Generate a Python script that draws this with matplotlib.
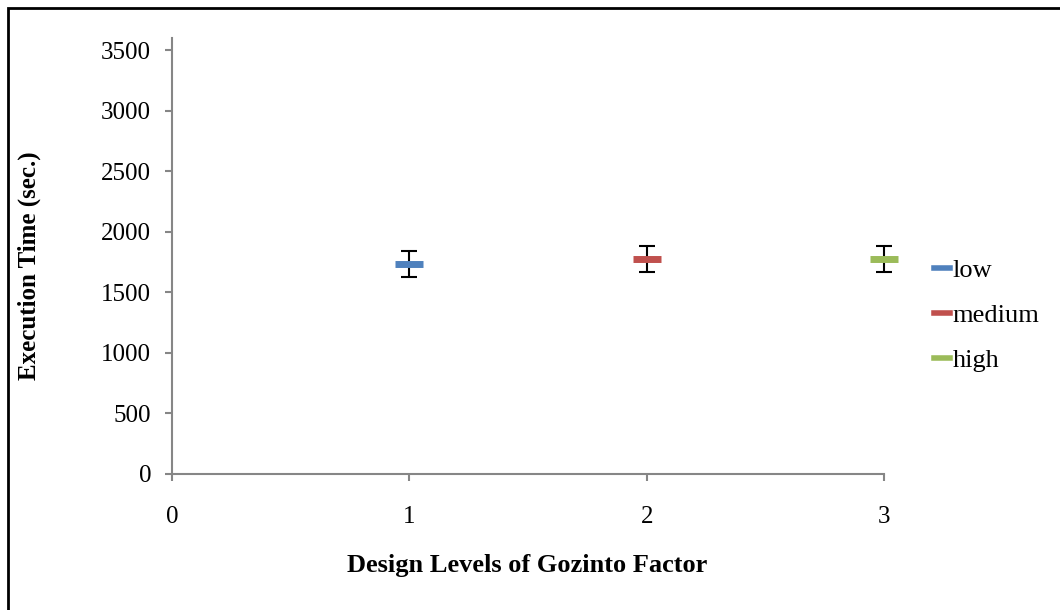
import numpy as np
import matplotlib.pyplot as plt
from matplotlib.lines import Line2D
from matplotlib.patches import Rectangle

plt.rcParams['font.family'] = ['Liberation Serif', 'DejaVu Serif']

levels = ['low', 'medium', 'high']
x_pos = [1, 2, 3]
mean_time = [1735, 1778, 1772]
err_time = [105, 107, 108]
colors = ['#4F81BD', '#C0504D', '#9BBB59']
y_ticks = [0, 500, 1000, 1500, 2000, 2500, 3000, 3500]
x_ticks = [0, 1, 2, 3]

fs = 18

fig = plt.figure(figsize=(10.6, 6.1), dpi=100)
ax = fig.add_axes([0.1623, 0.2230, 0.6717, 0.7148])

for xi, m, e, c in zip(x_pos, mean_time, err_time, colors):
    ax.errorbar(xi, m, yerr=e, fmt='none', ecolor='black', elinewidth=1.5,
                capsize=6, capthick=1.5, zorder=2, clip_on=False)
    ax.plot(xi, m, marker='_', markersize=20, mew=5, color=c, zorder=3,
            clip_on=False)

ax.set_xlim(0, 3)
ax.set_ylim(0, 3600)
ax.set_yticks(y_ticks)
ax.set_xticks(x_ticks)
ax.tick_params(axis='both', labelsize=fs, color='#868686', width=1.5,
               length=5, direction='out')
ax.tick_params(axis='x', pad=18)
ax.tick_params(axis='y', pad=10)
for s in ['top', 'right']:
    ax.spines[s].set_visible(False)
for s in ['left', 'bottom']:
    ax.spines[s].set_color('#868686')
    ax.spines[s].set_linewidth(1.5)

fig.text(0.028, 0.565, 'Execution Time (sec.)', rotation=90, fontsize=fs,
         fontweight='bold', ha='center', va='center')
fig.text(0.497, 0.073, 'Design Levels of Gozinto Factor', fontsize=fs + 1,
         fontweight='bold', ha='center', va='center')

handles = [Line2D([0], [0], color=c, lw=4) for c in colors]
fig.legend(handles, levels, loc='upper left', bbox_to_anchor=(0.869, 0.598),
           frameon=False, fontsize=fs + 1, handlelength=0.6, handletextpad=0.1,
           labelspacing=0.82, borderpad=0)

# outer frame
fig.patches.append(Rectangle((8 / 1060, -0.1), 1.2, 1.1 - 8 / 610,
                             transform=fig.transFigure, fill=False,
                             edgecolor='black', lw=2))

fig.savefig('out.png', dpi=100)
